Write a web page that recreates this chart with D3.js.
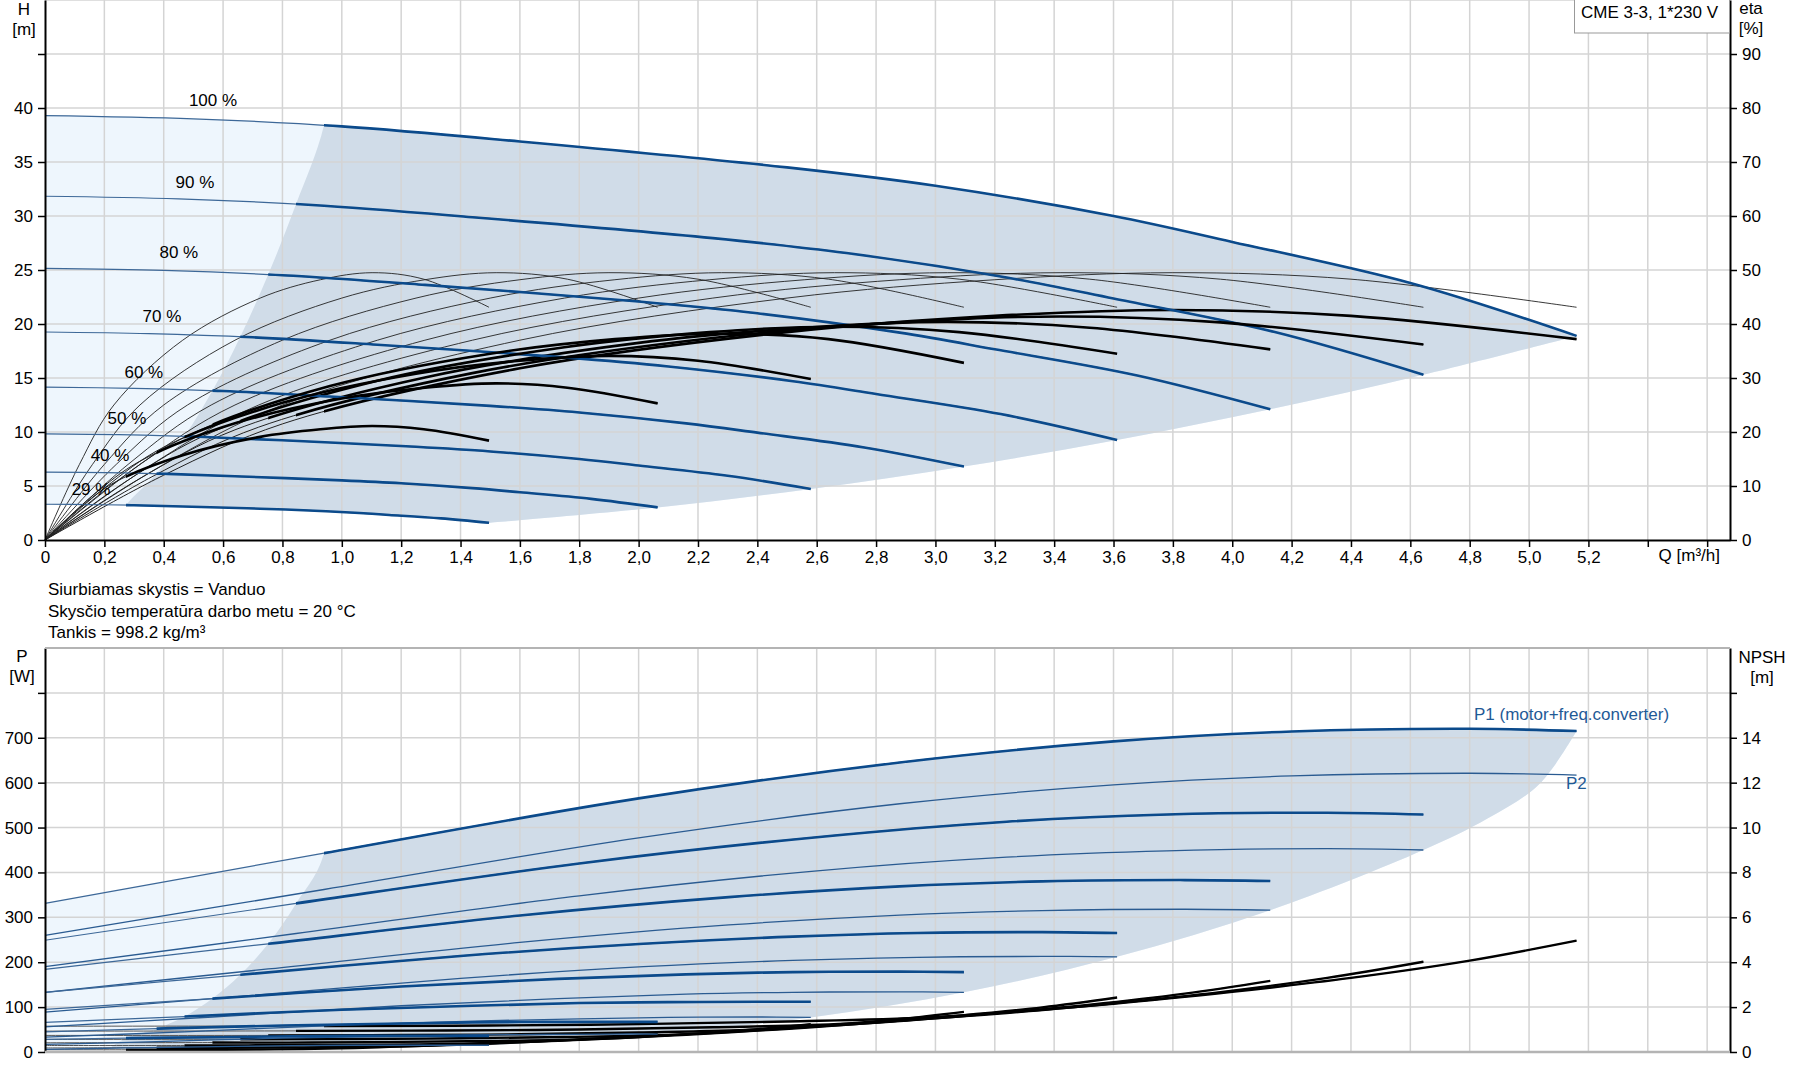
<!DOCTYPE html>
<html><head><meta charset="utf-8">
<script src="https://cdn.jsdelivr.net/npm/d3@7"></script>
<style>
body{margin:0;background:#fff;}
svg text{font-family:"Liberation Sans",Arial,sans-serif;fill:#000;}
</style></head><body>
<svg id="chart" width="1795" height="1081"></svg>
<script>
// ---------------- DATA ----------------
const speedLabels = ["100 %","90 %","80 %","70 %","60 %","50 %","40 %","29 %"];
// flow where each speed's curves turn thick (start of operating range)
const thickStartQ = [0.94,0.846,0.752,0.658,0.564,0.47,0.376,0.273];

// QH curves (H in m) per speed
const qhQ = [
 [0,0.5,1.0,1.6,2.5,3.0,3.6,4.0,4.6,5.16],
 [0,0.45,0.9,1.44,2.25,2.7,3.24,3.6,4.14,4.644],
 [0,0.4,0.8,1.28,2.0,2.4,2.88,3.2,3.68,4.128],
 [0,0.35,0.7,1.12,1.75,2.1,2.52,2.8,3.22,3.612],
 [0,0.3,0.6,0.96,1.5,1.8,2.16,2.4,2.76,3.096],
 [0,0.25,0.5,0.8,1.25,1.5,1.8,2.0,2.3,2.58],
 [0,0.2,0.4,0.64,1.0,1.2,1.44,1.6,1.84,2.064],
 [0,0.145,0.29,0.464,0.725,0.87,1.044,1.16,1.334,1.496]];
const qhH = [
 [39.3,39.0,38.3,36.9,34.5,32.8,30.0,27.6,23.8,18.9],
 [31.83,31.59,31.02,29.89,27.95,26.57,24.3,22.36,19.28,15.31],
 [25.15,24.96,24.51,23.62,22.08,20.99,19.2,17.66,15.23,12.1],
 [19.26,19.11,18.77,18.08,16.91,16.07,14.7,13.52,11.66,9.26],
 [14.15,14.04,13.79,13.28,12.42,11.81,10.8,9.94,8.57,6.8],
 [9.83,9.75,9.58,9.23,8.63,8.2,7.5,6.9,5.95,4.73],
 [6.29,6.24,6.13,5.9,5.52,5.25,4.8,4.42,3.81,3.02],
 [3.31,3.28,3.22,3.1,2.9,2.76,2.52,2.32,2.0,1.59]];

// efficiency curves (eta %, right axis)
const etaQ = [
 [0,0.4,0.8,1.6,2.5,3.2,3.8,4.4,5.16],
 [0,0.36,0.72,1.44,2.25,2.88,3.42,3.96,4.644],
 [0,0.32,0.64,1.28,2.0,2.56,3.04,3.52,4.128],
 [0,0.28,0.56,1.12,1.75,2.24,2.66,3.08,3.612],
 [0,0.24,0.48,0.96,1.5,1.92,2.28,2.64,3.096],
 [0,0.2,0.4,0.8,1.25,1.6,1.9,2.2,2.58],
 [0,0.16,0.32,0.64,1.0,1.28,1.52,1.76,2.064],
 [0,0.116,0.232,0.464,0.725,0.928,1.102,1.276,1.496]];
const etaPump = [0,14,25,37,44.8,48.2,49.5,48.3,43.1];
const etaTotal = [
 [0,12,21.5,31.8,38.5,41.5,42.6,41.5,37.2],
 [0,11.7,20.9,30.9,37.4,40.3,41.4,40.3,36.2],
 [0,11.4,20.4,30.1,36.5,39.3,40.4,39.3,35.3],
 [0,11.1,19.9,29.5,35.7,38.5,39.5,38.5,34.5],
 [0,10.8,19.3,28.5,34.5,37.2,38.2,37.2,32.8],
 [0,9.6,17.2,25.4,30.8,33.2,34.1,33.2,29.8],
 [0,8.2,14.6,21.6,26.2,28.2,29.0,28.2,25.3],
 [0,5.9,10.6,15.7,19.1,20.5,21.1,20.5,18.4]];

// power curves (W)
const pQ = [
 [0,0.94,2.0,2.88,3.6,4.2,4.8,5.16],
 [0,0.846,1.8,2.592,3.24,3.78,4.32,4.644],
 [0,0.752,1.6,2.304,2.88,3.36,3.84,4.128],
 [0,0.658,1.4,2.016,2.52,2.94,3.36,3.612],
 [0,0.564,1.2,1.728,2.16,2.52,2.88,3.096],
 [0,0.47,1.0,1.44,1.8,2.1,2.4,2.58],
 [0,0.376,0.8,1.152,1.44,1.68,1.92,2.064],
 [0,0.273,0.58,0.835,1.044,1.218,1.392,1.496]];
const p1 = [
 [331,443,565,645,692,714,720,715],
 [249,331,420,478,513,529,533,529],
 [184,241,304,345,369,380,383,381],
 [133,172,214,241,257,265,267,265],
 [95,119,146,163,173,178,179,178],
 [66,79,94,103,109,111,112,112],
 [45,52,59,63,66,67,67,67],
 [28,31,33,35,36,36,36,36]];
const p2 = [
 [260,362,477,553,595,615,621,617],
 [190,264,348,403,434,448,453,450],
 [133,185,244,283,305,315,318,316],
 [89,124,164,190,204,211,213,212],
 [56,78,103,119,129,133,134,133],
 [33,45,60,69,74,77,78,77],
 [17,23,31,35,38,39,40,40],
 [6,9,12,14,15,15,15,15]];

// NPSH curves (m)
const npshQ = [
 [0,0.94,1.5,2.0,2.5,3.0,3.6,4.0,4.4,4.8,5.16],
 [0,0.846,1.35,1.8,2.25,2.7,3.24,3.6,3.96,4.32,4.644],
 [0,0.752,1.2,1.6,2.0,2.4,2.88,3.2,3.52,3.84,4.128],
 [0,0.658,1.05,1.4,1.75,2.1,2.52,2.8,3.08,3.36,3.612],
 [0,0.564,0.9,1.2,1.5,1.8,2.16,2.4,2.64,2.88,3.096],
 [0,0.47,0.75,1.0,1.25,1.5,1.8,2.0,2.2,2.4,2.58],
 [0,0.376,0.6,0.8,1.0,1.2,1.44,1.6,1.76,1.92,2.064],
 [0,0.273,0.435,0.58,0.725,0.87,1.044,1.16,1.276,1.392,1.496]];
const npsh = [
 [1.15,1.16,1.18,1.24,1.36,1.56,2.15,2.68,3.3,4.07,4.96],
 [0.93,0.94,0.96,1.0,1.1,1.26,1.74,2.17,2.67,3.3,4.02],
 [0.74,0.74,0.76,0.79,0.87,1.0,1.38,1.72,2.11,2.6,3.17],
 [0.56,0.57,0.58,0.61,0.67,0.76,1.05,1.31,1.62,1.99,2.43],
 [0.41,0.42,0.42,0.45,0.49,0.56,0.77,0.96,1.19,1.47,1.79],
 [0.29,0.29,0.3,0.31,0.34,0.39,0.54,0.67,0.83,1.02,1.24],
 [0.18,0.19,0.19,0.2,0.22,0.25,0.34,0.43,0.53,0.65,0.79],
 [0.1,0.1,0.1,0.1,0.11,0.13,0.18,0.23,0.28,0.34,0.42]];

// operating-area boundaries
const hMaxQ = [5.16,4.644,4.128,3.612,3.096,2.58,2.064,1.496];
const hMaxH = [18.9,15.31,12.1,9.26,6.8,4.73,3.02,1.59];
const hBndQ = [0.2,0.273,0.376,0.47,0.564,0.658,0.752,0.846,0.94,1.0];
const hBndH = [0,3.23,6.14,9.6,13.82,18.82,24.58,31.1,38.4,50];
const pRightQ = [5.16,5.035,4.86,4.644,4.128,3.612,3.096,2.58,2.064,1.496];
const pRightP = [715,597,520,450,316,212,133,77,40,15];
const pBndQ = [0.2,0.273,0.376,0.47,0.564,0.658,0.752,0.846,0.94,0.97];
const pBndP = [0,31,52,79,119,172,241,331,443,900];

// tick labels
const qTickVals = [0,0.2,0.4,0.6,0.8,1.0,1.2,1.4,1.6,1.8,2.0,2.2,2.4,2.6,2.8,3.0,3.2,3.4,3.6,3.8,4.0,4.2,4.4,4.6,4.8,5.0,5.2,5.4,5.6];
const qTickLabels = ["0","0,2","0,4","0,6","0,8","1,0","1,2","1,4","1,6","1,8","2,0","2,2","2,4","2,6","2,8","3,0","3,2","3,4","3,6","3,8","4,0","4,2","4,4","4,6","4,8","5,0","5,2","",""];
const hTickVals = [0,5,10,15,20,25,30,35,40,45];
const hTickLabels = ["0","5","10","15","20","25","30","35","40",""];
const etaTickVals = [0,10,20,30,40,50,60,70,80,90];
const etaTickLabels = ["0","10","20","30","40","50","60","70","80","90"];
const pTickVals = [0,100,200,300,400,500,600,700,800];
const pTickLabels = ["0","100","200","300","400","500","600","700",""];
const nTickVals = [0,2,4,6,8,10,12,14,16];
const nTickLabels = ["0","2","4","6","8","10","12","14",""];
const infoLines = ["Siurbiamas skystis = Vanduo","Skysčio temperatūra darbo metu = 20 °C","Tankis = 998.2 kg/m³"];

// ---------------- DRAW ----------------
const FS = 17;
const svg = d3.select("#chart");
const W = 1795, Hh = 1081;
const X0 = 45, X1 = 1730, T0 = 0, T1 = 540, B0 = 648, B1 = 1052;
const x = d3.scaleLinear().domain([0,5.677]).range([X0,X1]);
const yH = d3.scaleLinear().domain([0,50]).range([T1,T0]);
const yE = d3.scaleLinear().domain([0,100]).range([T1,T0]);
const yP = d3.scaleLinear().domain([0,900]).range([B1,B0]);
const yN = d3.scaleLinear().domain([0,18]).range([B1,B0]);

const BLUE = "#0b4a8b", LIGHT = "#eef6fd", DARK = "#d0dce8", GRID = "#d4d4d4";
const cr = d3.curveCatmullRom.alpha(0.5);
const zip = (a,b) => a.map((v,i)=>[v,b[i]]);
const lineFn = ys => d3.line().x(d=>x(d[0])).y(d=>ys(d[1])).curve(cr);
const joined = parts => parts.map((p,i)=> i ? p.replace(/^M/,"L") : p).join("") + "Z";

const defs = svg.append("defs");
speedLabels.forEach((s,i)=>{
  defs.append("clipPath").attr("id","th"+i).append("rect")
    .attr("x", x(thickStartQ[i])).attr("y",0).attr("width", W).attr("height", Hh);
});
defs.append("clipPath").attr("id","darkTop").append("path")
  .attr("d", lineFn(yH)(zip(hBndQ,hBndH)) + "L"+x(5.677)+","+yH(50)+"L"+x(5.677)+","+yH(0)+"Z");
defs.append("clipPath").attr("id","darkBot").append("path")
  .attr("d", lineFn(yP)(zip(pBndQ,pBndP)) + "L"+x(5.677)+","+yP(900)+"L"+x(5.677)+","+yP(0)+"Z");

// regions
const topRegion = joined([
  lineFn(yH)(zip(qhQ[0],qhH[0])),
  lineFn(yH)(zip(hMaxQ,hMaxH)),
  lineFn(yH)(zip(qhQ[7],qhH[7]).reverse())]);
svg.append("path").attr("d",topRegion).attr("fill",LIGHT);
svg.append("path").attr("d",topRegion).attr("fill",DARK).attr("clip-path","url(#darkTop)");
const botRegion = joined([
  lineFn(yP)(zip(pQ[0],p1[0])),
  lineFn(yP)(zip(pRightQ,pRightP)),
  lineFn(yP)(zip(pQ[7],p2[7]).reverse())]);
svg.append("path").attr("d",botRegion).attr("fill",LIGHT);
svg.append("path").attr("d",botRegion).attr("fill",DARK).attr("clip-path","url(#darkBot)");

// grid
const grid = svg.append("g").attr("stroke",GRID).attr("stroke-width",1.5);
qTickVals.slice(1).forEach(q=>{
  grid.append("line").attr("x1",x(q)).attr("x2",x(q)).attr("y1",T0).attr("y2",T1);
  grid.append("line").attr("x1",x(q)).attr("x2",x(q)).attr("y1",B0).attr("y2",B1);
});
hTickVals.slice(1).concat([50]).forEach(h=>{
  grid.append("line").attr("x1",X0).attr("x2",X1).attr("y1",yH(h)).attr("y2",yH(h));
});
pTickVals.slice(1).forEach(p=>{
  grid.append("line").attr("x1",X0).attr("x2",X1).attr("y1",yP(p)).attr("y2",yP(p));
});

// curves
const cur = svg.append("g").attr("fill","none").attr("stroke-linecap","butt");
speedLabels.forEach((s,i)=>{
  cur.append("path").attr("d",lineFn(yE)(zip(etaQ[i],etaPump))).attr("stroke","#222").attr("stroke-width",0.9);
});
speedLabels.forEach((s,i)=>{
  const qh = lineFn(yH)(zip(qhQ[i],qhH[i]));
  cur.append("path").attr("d",qh).attr("stroke","#3d6898").attr("stroke-width",1.2);
  cur.append("path").attr("d",qh).attr("stroke",BLUE).attr("stroke-width",2.6).attr("clip-path","url(#th"+i+")");
  const et = lineFn(yE)(zip(etaQ[i],etaTotal[i]));
  cur.append("path").attr("d",et).attr("stroke","#222").attr("stroke-width",1);
  cur.append("path").attr("d",et).attr("stroke","#000").attr("stroke-width",2.6).attr("clip-path","url(#th"+i+")");
});
speedLabels.forEach((s,i)=>{
  const n = lineFn(yN)(zip(npshQ[i],npsh[i]));
  cur.append("path").attr("d",n).attr("stroke","#555").attr("stroke-width",1);
  cur.append("path").attr("d",n).attr("stroke","#000").attr("stroke-width",2.4).attr("clip-path","url(#th"+i+")");
  cur.append("path").attr("d",lineFn(yP)(zip(pQ[i],p2[i]))).attr("stroke","#2a5b91").attr("stroke-width",1.3);
  const a = lineFn(yP)(zip(pQ[i],p1[i]));
  cur.append("path").attr("d",a).attr("stroke","#3d6898").attr("stroke-width",1.2);
  cur.append("path").attr("d",a).attr("stroke",BLUE).attr("stroke-width",2.6).attr("clip-path","url(#th"+i+")");
});

// axes
function styleAxis(g){
  g.select(".domain").attr("stroke","#000").attr("stroke-width",2);
  g.selectAll(".tick line").attr("stroke","#000").attr("stroke-width",1.5);
  g.selectAll("text").attr("font-size",FS).attr("font-family","Liberation Sans, Arial, sans-serif").attr("fill","#000");
}
svg.append("g").attr("transform","translate("+X0+",0)")
  .call(d3.axisLeft(yH).tickValues(hTickVals).tickFormat((d,i)=>hTickLabels[i]).tickSize(7).tickSizeOuter(0).tickPadding(5)).call(styleAxis);
svg.append("g").attr("transform","translate("+X1+",0)")
  .call(d3.axisRight(yE).tickValues(etaTickVals).tickFormat((d,i)=>etaTickLabels[i]).tickSize(7).tickSizeOuter(0).tickPadding(5)).call(styleAxis);
svg.append("g").attr("transform","translate(0,"+T1+")")
  .call(d3.axisBottom(x).tickValues(qTickVals).tickFormat((d,i)=>qTickLabels[i]).tickSize(7).tickSizeOuter(0).tickPadding(4)).call(styleAxis);
svg.append("g").attr("transform","translate("+X0+",0)")
  .call(d3.axisLeft(yP).tickValues(pTickVals).tickFormat((d,i)=>pTickLabels[i]).tickSize(7).tickSizeOuter(0).tickPadding(5)).call(styleAxis);
svg.append("g").attr("transform","translate("+X1+",0)")
  .call(d3.axisRight(yN).tickValues(nTickVals).tickFormat((d,i)=>nTickLabels[i]).tickSize(7).tickSizeOuter(0).tickPadding(5)).call(styleAxis);
svg.append("line").attr("x1",X0).attr("x2",X1).attr("y1",B1).attr("y2",B1).attr("stroke","#b4b4b4").attr("stroke-width",2.5);
svg.append("line").attr("x1",X0).attr("x2",X1).attr("y1",B0).attr("y2",B0).attr("stroke","#b4b4b4").attr("stroke-width",2);

// text helper
const T = (tx,ty,str,anchor,opts) => {
  const t = svg.append("text").attr("x",tx).attr("y",ty).attr("font-size",FS)
    .attr("text-anchor",anchor||"start").attr("dominant-baseline","middle").text(str);
  if(opts && opts.fill) t.attr("fill",opts.fill).style("fill",opts.fill);
  return t;
};
T(24,11,"H","middle"); T(24,31,"[m]","middle");
T(1751,10,"eta","middle"); T(1751,30,"[%]","middle");
T(22,658,"P","middle"); T(22,678,"[W]","middle");
T(1762,659,"NPSH","middle"); T(1762,679,"[m]","middle");
T(1720,557,"Q [m³/h]","end");
infoLines.forEach((l,i)=>T(48,591+i*21.3,l,"start"));

// legend box
svg.append("rect").attr("x",1574.5).attr("y",-1).attr("width",155).attr("height",34)
  .attr("fill","#fff").attr("stroke","#999").attr("stroke-width",1);
T(1581,14,"CME 3-3, 1*230 V","start");

// speed labels
const labelQ = [0.566,0.505,0.451,0.394,0.333,0.276,0.219,0.155];
const labelH = [40.6,33.0,26.5,20.6,15.4,11.2,7.7,4.6];
speedLabels.forEach((s,i)=>T(x(labelQ[i]),yH(labelH[i]),s,"middle"));

// curve labels
T(1474,716,"P1 (motor+freq.converter)","start",{fill:"#1f5a96"});
T(1566,785,"P2","start",{fill:"#1f5a96"});
</script></body></html>
